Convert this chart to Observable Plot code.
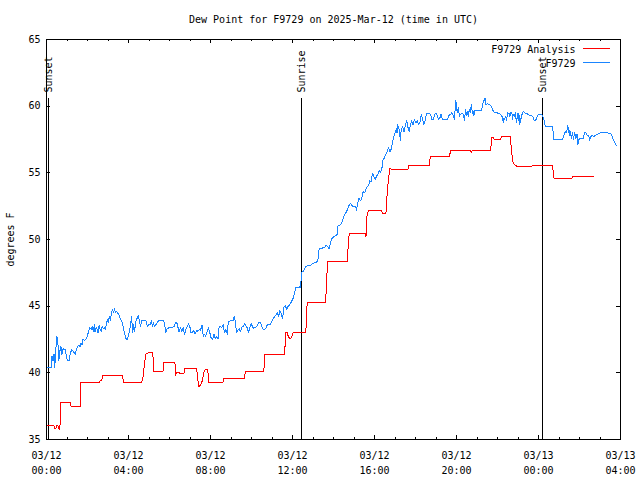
<!DOCTYPE html>
<html>
<head>
<meta charset="utf-8">
<script src="https://cdn.jsdelivr.net/npm/d3@7"></script>
<script src="https://cdn.jsdelivr.net/npm/@observablehq/plot@0.6"></script>
<style>
  html, body { margin: 0; padding: 0; background: #fff; }
  svg { display: block; }
</style>
</head>
<body>
<div id="chart"></div>
<script>
// ---------- text ----------
const title = "Dew Point for F9729 on 2025-Mar-12 (time in UTC)";
const yLabel = "degrees F";
const seriesNames = ["F9729 Analysis", "F9729"];
const seriesColors = ["#ff0000", "#1a85ff"];

// ---------- axes ----------
const startUTC = Date.UTC(2025, 2, 12, 0, 0);   // 03/12 00:00 UTC
const xDomainMinutes = [0, 1680];               // to 03/13 04:00
const xMajorMinutes = [0, 240, 480, 720, 960, 1200, 1440, 1680];
const xMinorStepMinutes = 60;
const yDomain = [35, 65];
const yTicks = [35, 40, 45, 50, 55, 60, 65];

// ---------- events (vertical lines) ----------
const eventNames = ["Sunset", "Sunrise", "Sunset"];
const eventMinutes = [7, 747, 1453];

// ---------- series: F9729 Analysis (minutes since 03/12 00:00 UTC, deg F) ----------
const analysisMin = [2,21,24,28,30,33,36,39,41,42,70,72,99,101,155,158,162,165,223,225,279,283,287,291,297,311,314,341,343,376,378,380,387,390,402,405,439,443,446,451,456,460,465,472,475,517,519,579,582,636,639,697,700,704,708,714,718,722,759,761,763,817,821,823,880,883,886,933,935,938,942,980,983,993,995,997,1001,1005,1009,1058,1061,1120,1122,1124,1180,1182,1241,1243,1247,1299,1301,1304,1307,1311,1328,1332,1358,1360,1364,1366,1372,1377,1421,1424,1481,1483,1485,1538,1540,1602];
const analysisVal = [36.05,36.05,35.85,35.85,36.05,36.05,35.85,35.75,37.0,37.75,37.75,37.5,37.5,39.3,39.3,39.45,39.45,39.8,39.8,39.3,39.3,39.75,40.75,41.4,41.5,41.5,40.1,40.1,40.75,40.75,39.8,40.05,40.05,39.95,39.95,40.35,40.35,39.5,38.95,39.1,39.4,40.0,40.25,40.25,39.3,39.3,39.55,39.55,40.1,40.1,41.35,41.35,43.05,43.05,42.7,42.55,42.7,43.05,43.05,44.2,45.3,45.3,47.5,48.35,48.35,49.5,50.45,50.45,50.2,51.75,52.2,52.2,51.95,51.95,52.3,53.5,54.5,55.35,55.25,55.25,55.55,55.55,56.0,56.2,56.2,56.7,56.7,56.55,56.7,56.7,57.0,57.7,57.65,57.5,57.5,57.7,57.7,56.9,56.0,55.7,55.55,55.5,55.5,55.55,55.55,55.1,54.6,54.6,54.7,54.7];

// ---------- series: F9729 observations ----------
const obsMin = [2,14,16,19,22,24,27,30,33,36,39,42,45,48,51,55,58,61,66,69,74,78,82,84,88,92,95,98,101,104,107,111,115,119,123,127,131,134,137,140,142,145,148,151,154,157,160,163,166,169,172,175,178,181,184,187,190,193,196,199,202,205,209,213,217,221,224,227,230,233,236,239,242,246,249,252,255,258,261,263,266,269,272,275,279,287,291,295,299,304,307,310,313,316,320,328,334,343,346,349,353,359,373,377,381,384,388,392,396,400,404,408,412,416,420,423,427,431,435,439,443,447,451,455,459,462,466,470,474,478,482,486,490,494,498,502,505,509,513,517,521,525,529,532,539,546,550,553,556,560,564,568,572,576,580,583,587,591,595,599,605,615,621,626,630,634,642,646,654,658,662,667,671,675,679,683,687,691,695,699,703,706,712,718,722,726,730,734,740,743,745,747,751,755,759,765,773,779,784,790,794,796,798,806,814,818,823,827,831,835,841,847,851,853,861,866,870,876,882,886,890,896,902,905,907,911,915,919,923,927,931,935,939,943,946,950,954,958,962,966,970,974,978,982,985,989,993,997,1001,1005,1009,1013,1017,1021,1024,1026,1028,1032,1034,1036,1038,1042,1046,1050,1054,1058,1062,1065,1069,1073,1077,1081,1085,1089,1093,1097,1101,1104,1108,1112,1120,1124,1128,1132,1136,1140,1144,1147,1151,1155,1159,1173,1177,1181,1183,1186,1190,1194,1196,1198,1200,1202,1206,1208,1212,1216,1220,1224,1225,1227,1229,1231,1235,1237,1241,1243,1245,1247,1249,1251,1253,1257,1261,1270,1274,1276,1280,1284,1286,1290,1294,1298,1302,1305,1309,1313,1317,1321,1325,1329,1333,1337,1339,1341,1344,1346,1350,1354,1356,1358,1362,1364,1366,1370,1372,1374,1376,1378,1380,1382,1384,1385,1389,1393,1397,1401,1405,1409,1413,1417,1423,1427,1432,1436,1440,1448,1452,1456,1458,1460,1481,1483,1485,1510,1514,1518,1522,1526,1528,1530,1532,1534,1536,1540,1542,1546,1549,1553,1555,1559,1563,1567,1571,1575,1579,1583,1587,1590,1594,1598,1602,1606,1610,1614,1618,1622,1627,1631,1635,1639,1643,1647,1651,1655,1659,1663,1667];
const obsVal = [40.4,40.4,41.25,40.9,41.4,40.4,41.6,42.75,42.4,40.9,41.6,42.0,41.4,41.75,41.8,41.75,41.25,40.9,40.9,41.4,41.75,41.6,41.5,41.4,41.75,42.0,42.1,41.95,42.25,42.1,42.55,42.4,42.5,42.7,43.1,43.4,43.25,43.5,43.1,43.6,43.05,43.4,43.3,43.0,43.6,43.25,43.1,43.5,43.3,43.4,43.25,43.6,44.0,43.75,44.25,43.95,44.5,44.75,44.5,44.8,44.5,44.6,44.45,44.3,44.0,43.8,43.5,43.1,42.8,42.55,42.45,42.75,43.0,43.6,44.25,43.0,43.6,43.1,43.75,44.0,44.1,44.3,43.9,43.5,43.9,43.9,43.9,43.5,43.6,43.6,43.9,43.5,43.75,43.45,43.6,43.9,43.95,43.95,43.6,43.0,43.3,43.4,43.45,43.75,43.8,43.5,43.05,43.4,43.1,43.4,42.9,43.25,43.5,43.7,43.4,43.0,43.0,43.2,42.9,43.2,43.1,43.25,43.2,43.6,42.7,42.9,42.75,43.1,43.4,43.0,42.6,42.5,42.9,42.55,42.75,42.55,43.4,43.5,43.4,43.6,43.0,43.25,42.9,43.8,43.9,43.9,44.25,43.8,43.0,43.2,43.3,43.1,43.45,43.5,43.7,43.55,43.4,43.0,43.4,43.7,43.35,43.45,43.8,43.8,43.5,43.25,43.3,43.6,43.6,43.8,44.0,44.2,44.3,44.5,44.2,44.65,44.45,44.05,44.95,45.05,44.75,44.95,45.1,45.4,45.6,46.0,46.4,46.4,46.45,46.4,46.9,47.55,47.6,47.8,47.95,48.05,48.05,48.2,48.25,48.3,48.4,48.75,49.3,49.35,49.4,49.6,49.45,49.3,49.75,50.05,50.2,50.3,50.4,51.0,51.1,51.4,51.75,52.0,52.3,52.6,52.7,52.5,52.45,52.5,52.2,52.75,53.1,52.9,53.1,53.6,53.5,53.75,54.0,54.05,54.4,54.3,54.95,54.75,54.5,54.75,54.9,55.2,55.0,55.4,56.0,56.1,56.4,56.6,56.9,56.55,56.8,57.3,57.75,58.1,58.3,58.0,58.6,58.25,57.8,57.45,58.2,58.5,58.05,58.5,58.95,58.4,58.1,58.6,58.9,58.6,59.0,58.75,58.9,58.6,58.75,59.4,59.0,58.6,58.9,59.45,59.45,59.4,59.0,59.0,59.4,59.45,59.3,59.0,59.1,59.4,59.0,59.0,59.25,59.4,59.4,59.5,59.3,59.0,59.75,60.4,60.1,59.5,59.9,59.25,59.4,59.5,59.4,58.9,59.4,59.75,59.3,59.6,59.25,59.75,59.5,60.1,59.75,59.45,59.6,59.25,59.7,59.7,59.7,59.7,59.7,60.1,60.4,60.6,60.1,60.2,60.1,60.1,60.0,59.75,59.6,59.5,59.55,59.45,59.45,59.4,59.25,58.75,59.1,59.0,59.25,58.95,59.5,59.45,59.2,59.5,59.5,59.0,59.4,59.25,59.5,59.1,58.8,59.25,59.5,58.95,59.3,58.6,59.1,59.5,59.6,59.45,59.45,59.4,59.3,59.3,59.25,58.95,58.95,59.2,59.4,59.4,59.3,58.95,58.75,58.5,58.5,58.0,57.5,57.5,57.75,58.1,58.0,58.55,58.0,58.2,57.75,58.1,57.55,58.05,57.5,58.05,57.55,57.9,57.1,57.55,57.55,57.6,57.6,58.0,58.0,57.8,57.75,57.45,57.75,57.8,57.7,57.8,57.9,57.9,57.95,58.0,58.0,58.0,58.0,58.0,58.0,57.95,57.95,57.75,57.5,57.3,57.05];

// ---------- build tables ----------
const toDate = m => new Date(startUTC + m * 60000);
const analysis = analysisMin.map((m, i) => ({date: toDate(m), value: analysisVal[i]}));
const obs = obsMin.map((m, i) => ({date: toDate(m), value: obsVal[i]}));
const events = eventNames.map((n, i) => ({name: n, date: toDate(eventMinutes[i])}));
const xMajor = xMajorMinutes.map(toDate);
const xMinor = d3.range(xDomainMinutes[0], xDomainMinutes[1] + 1, xMinorStepMinutes).map(toDate);
const fmt = d3.utcFormat("%m/%d\n%H:%M");

const W = 640, H = 480;
const mL = 46, mR = 20, mT = 39, mB = 41;
const frameW = W - mL - mR, frameH = H - mT - mB;
const frameMidY = (mT + H - mB) / 2;
const crisp = "crispEdges";
const tickStyle = {stroke: "#000", strokeWidth: 1, shapeRendering: crisp};

const chart = Plot.plot({
  width: W, height: H,
  marginLeft: mL, marginRight: mR, marginTop: mT, marginBottom: mB,
  style: {fontFamily: "'DejaVu Sans Mono', monospace", fontSize: "10px", background: "#fff", color: "#000", overflow: "visible"},
  x: {type: "utc", domain: xDomainMinutes.map(toDate)},
  y: {domain: yDomain},
  marks: [
    // inward ticks, mirrored on all four sides
    Plot.tickX(xMinor, {x: d => d, insetTop: frameH - 2, ...tickStyle}),
    Plot.tickX(xMinor, {x: d => d, insetBottom: frameH - 2, ...tickStyle}),
    Plot.tickX(xMajor, {x: d => d, insetTop: frameH - 4, ...tickStyle}),
    Plot.tickX(xMajor, {x: d => d, insetBottom: frameH - 4, ...tickStyle}),
    Plot.tickY(yTicks, {y: d => d, insetRight: frameW - 4, ...tickStyle}),
    Plot.tickY(yTicks, {y: d => d, insetLeft: frameW - 4, ...tickStyle}),
    // tick labels
    Plot.axisX(xMajor, {anchor: "bottom", tickSize: 0, tickPadding: 9, tickFormat: fmt, lineHeight: 1.5, label: null, fontSize: 10}),
    Plot.axisY(yTicks, {anchor: "left", tickSize: 0, tickPadding: 6, label: null, fontSize: 10}),
    // event lines and labels
    Plot.ruleX(events, {x: "date", insetTop: 59, stroke: "#000", strokeWidth: 1, shapeRendering: crisp}),
    Plot.text(events, {x: "date", text: "name", frameAnchor: "top", dy: 53, rotate: -90, textAnchor: "start", lineAnchor: "middle", fontSize: 10, fill: "#000"}),
    // data
    Plot.line(analysis, {x: "date", y: "value", stroke: seriesColors[0], strokeWidth: 1, shapeRendering: crisp}),
    Plot.line(obs, {x: "date", y: "value", stroke: seriesColors[1], strokeWidth: 1, shapeRendering: crisp}),
    Plot.frame({stroke: "#000", strokeWidth: 1, shapeRendering: crisp}),
    // title and y label
    Plot.text([title], {text: d => d, frameAnchor: "top", dy: -20, lineAnchor: "middle", fontSize: 10, fill: "#000"}),
    Plot.text([yLabel], {text: d => d, frameAnchor: "left", dx: -36, rotate: -90, lineAnchor: "middle", textAnchor: "middle", fontSize: 10, fill: "#000"}),
    // legend
    Plot.text([seriesNames[0]], {text: d => d, frameAnchor: "top-right", dx: -45, dy: 10, textAnchor: "end", lineAnchor: "middle", fontSize: 10, fill: "#000"}),
    Plot.text([seriesNames[1]], {text: d => d, frameAnchor: "top-right", dx: -45, dy: 24, textAnchor: "end", lineAnchor: "middle", fontSize: 10, fill: "#000"}),
    Plot.ruleY([seriesNames[0]], {y: null, insetLeft: 537, insetRight: 10, dy: 48 - frameMidY, stroke: seriesColors[0], strokeWidth: 1, shapeRendering: crisp}),
    Plot.ruleY([seriesNames[1]], {y: null, insetLeft: 537, insetRight: 10, dy: 62 - frameMidY, stroke: seriesColors[1], strokeWidth: 1, shapeRendering: crisp})
  ]
});
document.getElementById("chart").appendChild(chart);
</script>
</body>
</html>
